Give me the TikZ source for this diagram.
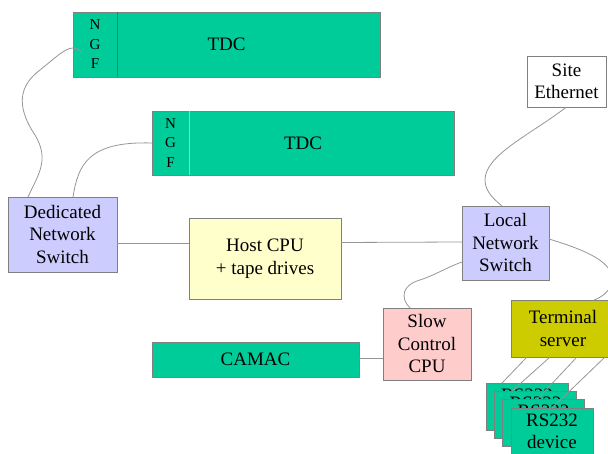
\documentclass[tikz,border=0pt]{standalone}
\usepackage{fontspec}
\setmainfont{Liberation Serif}
\definecolor{modgreen}{RGB}{0,204,153}
\definecolor{switchblue}{RGB}{204,204,255}
\definecolor{hostyellow}{RGB}{255,255,204}
\definecolor{slowpink}{RGB}{255,204,204}
\definecolor{termolive}{RGB}{204,204,0}
\definecolor{boxline}{RGB}{128,128,128}
\definecolor{wirecol}{RGB}{150,150,150}
\definecolor{divcyan}{RGB}{120,220,220}
\begin{document}
\begin{tikzpicture}[x=1pt,y=-1pt,
  box/.style={draw=boxline, line width=0.8pt, inner sep=0pt, outer sep=0pt,
    anchor=north west, align=center, font=\fontsize{19}{22.5}\selectfont},
  ngf/.style={inner sep=0pt, outer sep=0pt, anchor=north west, align=center,
    font=\fontsize{15}{19.5}\selectfont},
  wire/.style={draw=wirecol, line width=0.8pt}]
\useasboundingbox (0,0) rectangle (608,454);

% TDC crates with their NGF slot
\node[box, fill=modgreen, minimum width=307, minimum height=65] (tdcA) at (73,12) {TDC};
\node[ngf, minimum width=44, minimum height=65] (ngfA) at (73,12) {N\\G\\F};
\draw[draw=black!60, line width=0.8pt] (ngfA.north east) -- (ngfA.south east);

\node[box, fill=modgreen, minimum width=302, minimum height=64] (tdcB) at (152,111) {TDC};
\node[ngf, minimum width=37, minimum height=64] (ngfB) at (152,111) {N\\G\\F};
\draw[draw=divcyan, line width=0.8pt] (ngfB.north east) -- (ngfB.south east);

% switches and computers
\node[box, fill=switchblue, minimum width=109, minimum height=75] (dns) at (8,197) {Dedicated\\Network\\Switch};
\node[box, fill=hostyellow, minimum width=152, minimum height=81] (host) at (189,218) {Host CPU\\+ tape drives};
\node[box, fill=switchblue, minimum width=87, minimum height=74] (lns) at (462,206) {Local\\Network\\Switch};
\node[box, fill=white, minimum width=79, minimum height=51] (site) at (527,56) {Site\\Ethernet};
\node[box, fill=slowpink, minimum width=88, minimum height=72] (slow) at (383,308) {Slow\\Control\\CPU};
\node[box, fill=modgreen, minimum width=207, minimum height=35] (camac) at (152,342) {CAMAC};
\node[box, fill=termolive, minimum width=104, minimum height=57] (term) at (511,300) {Terminal\\server};

% stack of serial devices
\node[box, fill=modgreen, minimum width=82, minimum height=47] (rsA) at (486,383) {RS232\\device};
\node[box, fill=modgreen, minimum width=82, minimum height=47] (rsB) at (494.5,391) {RS232\\device};
\node[box, fill=modgreen, minimum width=82, minimum height=47] (rsC) at (502.5,399.5) {RS232\\device};
\node[box, fill=modgreen, minimum width=82, minimum height=47] (rsD) at (511,408) {RS232\\device};

% cables to the NGF slots
\draw[wire] ([xshift=20pt]dns.north west) .. controls (38,175) and (50,160) .. (35,135)
  .. controls (15,105) and (20,85) .. (40,70)
  .. controls (55,58) and (65,48) .. (73,48)
  .. controls (78,48) and (81,51) .. ([xshift=9pt,yshift=-9pt]ngfA.west);
\draw[wire] ([xshift=65pt]dns.north west) .. controls (78,165) and (88,141) .. (ngfB.west);

% network links
\draw[wire] ([yshift=-8.5pt]dns.east) -- ([yshift=15.5pt]host.west);
\draw[wire] ([yshift=16pt]host.east) -- ([yshift=1pt]lns.west);
\draw[wire] ([yshift=1.5pt]camac.east) -- ([yshift=-14pt]slow.west);
\draw[wire] (site.south) .. controls (530,135) and (485,155) .. (485,180)
  .. controls (485,192) and (495,200) .. ([xshift=40pt]lns.north west);
\draw[wire] ([yshift=4pt]lns.east) .. controls (585,250) and (615,262) .. (612,282)
  .. controls (610,292) and (600,298) .. ([xshift=83pt]term.north west);
\draw[wire] ([xshift=27pt]slow.north west) .. controls (400,298) and (402,285) .. (420,280)
  .. controls (435,275) and (450,266) .. ([yshift=-19pt]lns.west);

% serial lines
\draw[wire] ([xshift=16pt]term.south west) -- ([xshift=16pt]rsA.north west);
\draw[wire] ([xshift=39pt]term.south west) -- ([xshift=17.5pt]rsB.north west);
\draw[wire] ([xshift=66pt]term.south west) -- ([xshift=34.5pt]rsC.north west);
\draw[wire] ([xshift=94pt]term.south west) -- ([xshift=41pt]rsD.north west);
\end{tikzpicture}
\end{document}
